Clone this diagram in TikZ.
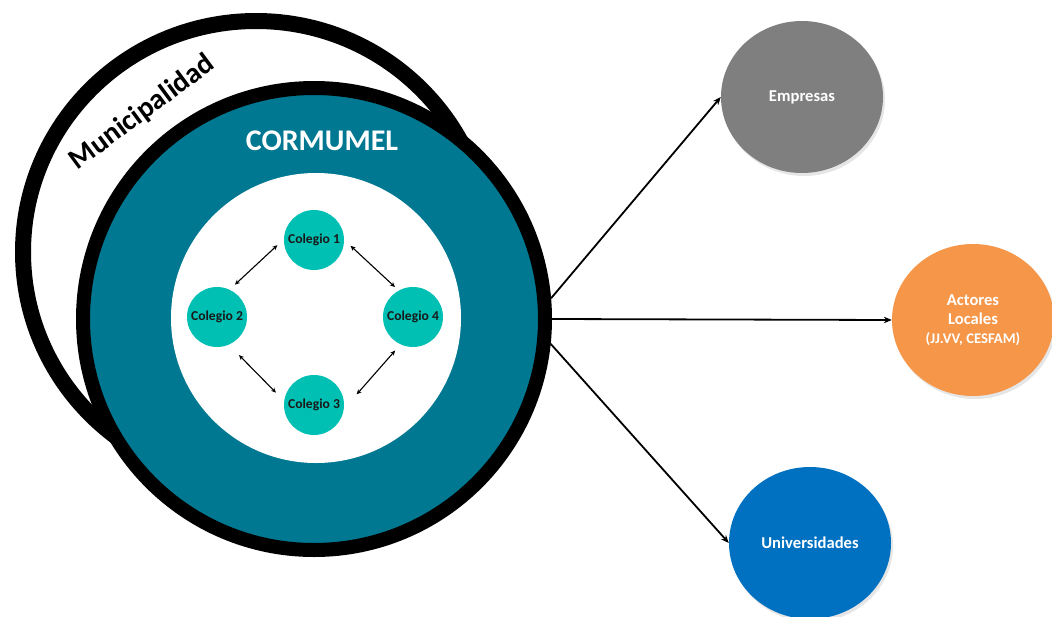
\documentclass[tikz,border=0pt]{standalone}
\usepackage{fontspec}
\setmainfont{Carlito}
\usetikzlibrary{calc,shadows,shapes.geometric,arrows.meta}

\definecolor{ringteal}{RGB}{0,120,145}
\definecolor{colegiofill}{RGB}{0,191,179}
\definecolor{empgray}{RGB}{127,127,127}
\definecolor{actorange}{RGB}{245,150,72}
\definecolor{unblue}{RGB}{0,112,192}

\begin{document}
\begin{tikzpicture}[x=1pt,y=-1pt,
  colegio/.style={circle, fill=colegiofill, minimum size=60pt, inner sep=0pt,
    font=\fontsize{13.6}{15}\selectfont\bfseries, text=black!90},
  actor/.style={ellipse, minimum width=162pt, minimum height=152pt, inner sep=0pt,
    text=white, font=\fontsize{16.6}{19}\selectfont\bfseries, align=center,
    drop shadow={opacity=0.2, shadow xshift=2pt, shadow yshift=-3pt}},
  linkarrow/.style={-{Stealth[length=8pt,width=6.5pt]}, line width=1.8pt},
  peerarrow/.style={{Stealth[length=5pt,width=4.5pt]}-{Stealth[length=5pt,width=4.5pt]}, line width=1.1pt}
]
\useasboundingbox (0,0) rectangle (1052,616);

% municipal boundary and the corporation ring on top of it
\node[ellipse, draw, line width=16pt, fill=white, inner sep=0pt,
      minimum width=466pt, minimum height=462pt] (muni) at (256,252) {};
\node[circle, draw, line width=14pt, fill=ringteal, inner sep=0pt,
      minimum size=462pt] (ring) at (314,319) {};
\node[circle, fill=white, inner sep=0pt, minimum size=290pt] (core) at (316,318) {};

% schools
\node[colegio] (c1) at (314,240) {Colegio 1};
\node[colegio] (c2) at (217,317) {Colegio 2};
\node[colegio] (c4) at (413,317) {Colegio 4};
\node[colegio] (c3) at (314,405) {Colegio 3};

\draw[peerarrow] ($(c1)+(188:37pt)$) -- ($(c2)+(61:37pt)$);
\draw[peerarrow] ($(c1)+(-9:37pt)$) -- ($(c4)+(121:35pt)$);
\draw[peerarrow] ($(c2)+(-60:44pt)$) -- ($(c3)+(162:40pt)$);
\draw[peerarrow] ($(c4)+(242:38pt)$) -- ($(c3)+(14:44pt)$);

% titles
\node[font=\fontsize{30}{32}\selectfont\bfseries, text=white, anchor=base]
  (cormumel) at (322,150) {CORMUMEL};
\node[font=\fontsize{29}{31}\selectfont\bfseries, rotate=36.5, anchor=base]
  (mtext) at (147,119) {Municipalidad};

% external partners
\node[actor, fill=empgray] (emp) at (802,97) {Empresas};
\node[actor, fill=actorange] (act) at (973,320)
  {Actores\\Locales\\{\fontsize{14.7}{19}\selectfont (JJ.VV, CESFAM)}};
\node[actor, fill=unblue] (uni) at (810,543) {Universidades};

\draw[linkarrow] (ring.5) -- (emp.west);
\draw[linkarrow] (ring.east) -- (act.west);
\draw[linkarrow] (ring.-6) -- (uni.west);
\end{tikzpicture}
\end{document}
